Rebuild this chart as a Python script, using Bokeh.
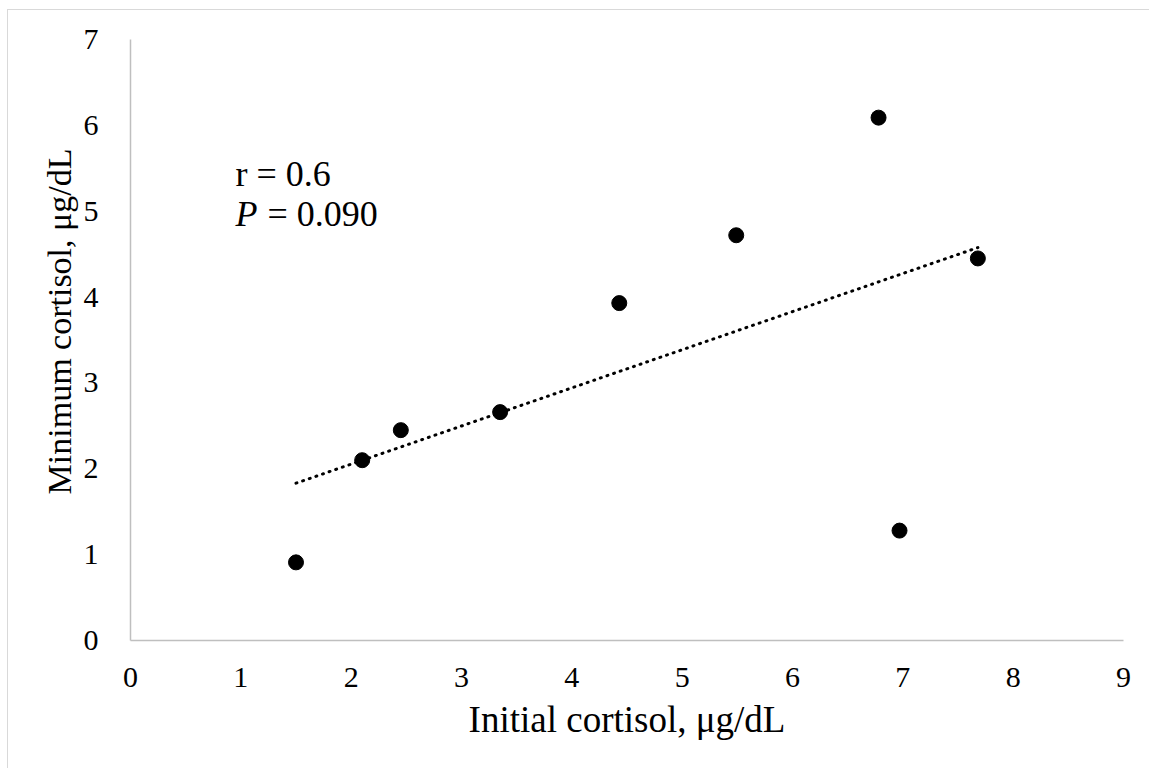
from bokeh.plotting import figure
from bokeh.models import Range1d, FixedTicker, ColumnDataSource, Title
from bokeh.core.properties import value
from bokeh.embed import file_html
from bokeh.resources import INLINE
import numpy as np

# Data
initial_cortisol = [1.50, 2.10, 2.45, 3.35, 4.43, 5.49, 6.78, 6.97, 7.68]
minimum_cortisol = [0.91, 2.10, 2.45, 2.66, 3.93, 4.72, 6.09, 1.28, 4.45]
x_ticks = [0, 1, 2, 3, 4, 5, 6, 7, 8, 9]
y_ticks = [0, 1, 2, 3, 4, 5, 6, 7]
x_title = "Initial cortisol, μg/dL"
y_title = "Minimum cortisol, μg/dL"
r_text = "r = 0.6"
p_label = "P"
p_text = "= 0.090"

FONT = "Liberation Serif"

# least-squares trendline over the data range
xa = np.array(initial_cortisol)
ya = np.array(minimum_cortisol)
slope, intercept = np.polyfit(xa, ya, 1)
trend_x = [xa.min(), xa.max()]
trend_y = [intercept + slope * v for v in trend_x]

p = figure(
    frame_width=993, frame_height=601,
    min_border_left=122, min_border_right=27, min_border_top=29, min_border_bottom=129,
    x_range=Range1d(0, 9), y_range=Range1d(0, 7),
    output_backend="svg", toolbar_location=None,
)
p.styles = {"margin-left": "7px", "margin-top": "9px",
            "border-left": "1px solid #d9d9d9", "border-top": "1px solid #d9d9d9"}
p.outline_line_color = None
p.grid.grid_line_color = None
p.background_fill_color = "white"
p.border_fill_color = "white"

for ax in (p.xaxis[0], p.yaxis[0]):
    ax.axis_line_color = "#bfbfbf"
    ax.axis_line_width = 1.5
    ax.major_tick_line_color = None
    ax.minor_tick_line_color = None
    ax.major_label_text_font = FONT
    ax.major_label_text_font_size = "30px"
    ax.major_label_text_color = "black"
    ax.axis_label_text_font = FONT
    ax.axis_label_text_font_style = "normal"
    ax.axis_label_text_color = "black"

p.xaxis.ticker = FixedTicker(ticks=x_ticks)
p.yaxis.ticker = FixedTicker(ticks=y_ticks)
p.xaxis.axis_label = x_title
p.xaxis.axis_label_text_font_size = "37px"
p.xaxis.major_label_standoff = 21
p.xaxis.axis_label_standoff = 9
p.yaxis.major_label_standoff = 26

# y-axis title (slightly above centre as in the reference)
p.add_layout(Title(text=y_title, align="right", offset=109, standoff=6,
                   text_font=FONT, text_font_size="34px",
                   text_font_style="normal", text_color="black"), "left")

p.line(trend_x, trend_y, line_color="black", line_width=3,
       line_dash="1 6", line_cap="round")

src = ColumnDataSource(dict(x=initial_cortisol, y=minimum_cortisol))
p.scatter("x", "y", source=src, size=15, fill_color="black", line_color="black")

p.text(x=[0.952], y=[5.435], text=[r_text], text_font=value(FONT),
       text_font_size="36px", text_color="black", text_baseline="alphabetic")
p.text(x=[0.952], y=[4.965], text=[p_label], text_font=value(FONT),
       text_font_size="36px", text_font_style="italic", text_color="black",
       text_baseline="alphabetic")
p.text(x=[0.952], y=[4.965], text=[p_text], text_font=value(FONT),
       text_font_size="36px", text_color="black", text_baseline="alphabetic",
       x_offset=32)

open("out.html", "w").write(file_html(p, INLINE))
